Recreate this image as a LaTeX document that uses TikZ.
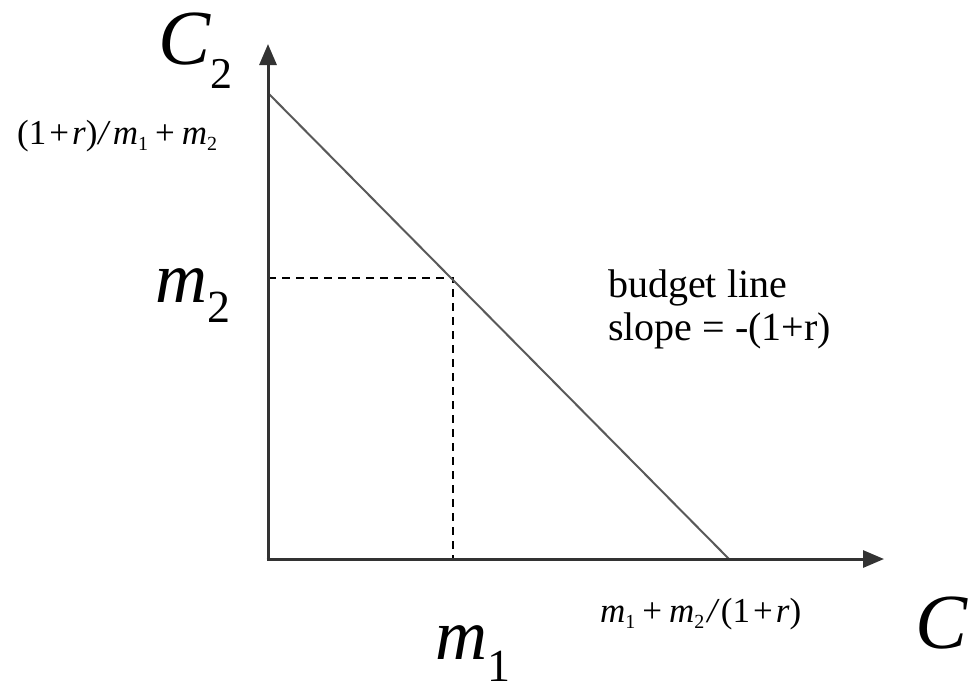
\documentclass[tikz,border=0pt]{standalone}
\usepackage{fontspec}
\usepackage{graphicx}
\setmainfont{Liberation Serif}
\usetikzlibrary{arrows.meta}
\newcommand{\lsub}[3]{\raisebox{-#1}{\fontsize{#2}{#2}\selectfont #3}}
\newcommand{\bigfont}{\fontsize{78}{78}\selectfont}
\newcommand{\mfont}{\fontsize{72}{72}\selectfont}
\newcommand{\smallmath}{\fontsize{35}{35}\selectfont}
\newcommand{\pl}{\kern7pt+\kern7pt}
\newcommand{\ipl}{\kern3pt+\kern3pt}
\tikzset{
  axis/.style={draw=black!80, line width=3pt, -{Triangle[length=21pt,width=17pt]}},
  budget/.style={draw=black!65, line width=2pt},
  guide/.style={draw=black, line width=2pt, dash pattern=on 8pt off 6pt},
  lbl/.style={inner sep=0pt, anchor=base west},
}
\begin{document}
\begin{tikzpicture}[x=1pt,y=-1pt]
  \clip (0,0) rectangle (969,680);
  \fill[white] (0,0) rectangle (969,680);
  \coordinate (O) at (268,559);
  \coordinate (Ytip) at (268,44);
  \coordinate (Xtip) at (884,559);
  \coordinate (A) at (268,93);
  \coordinate (B) at (729,559);
  \coordinate (P) at (453,278);
  \coordinate (Px) at (453,559);
  \coordinate (Py) at (268,278);
  \draw[guide] (Py) -- (P) -- (Px);
  \draw[budget] (A) -- (B);
  \draw[axis] ([yshift=-1.5pt]O) -- (Ytip);
  \draw[axis] ([xshift=-1.5pt]O) -- (Xtip);
  \node[lbl] (c2) at (158,64) {\bigfont\textit{C}\lsub{24pt}{44}{2}};
  \node[lbl] (c1) at (915,648) {\bigfont\textit{C}\lsub{24pt}{44}{1}};
  \node[lbl] (m2) at (155,302) {\mfont\textit{m}\lsub{20pt}{46}{2}};
  \node[lbl] (m1) at (435,659) {\mfont\textit{m}\lsub{22pt}{46}{1}};
  \node[lbl] (top) at (17,144) {\smallmath(1\ipl\textit{r})\kern1pt\textit{/}\kern2pt\textit{m}\lsub{6pt}{20}{1}\pl\textit{m}\lsub{6pt}{20}{2}};
  \node[lbl] (bot) at (600,622) {\smallmath\textit{m}\lsub{6pt}{20}{1}\pl\textit{m}\lsub{6pt}{20}{2}\kern3pt\textit{/}\kern1pt(1\ipl\textit{r})};
  \node[lbl, align=left, font=\fontsize{40}{43}\selectfont] (bl) at (608,340) {budget line\\slope = -(1+r)};
\end{tikzpicture}
\end{document}
